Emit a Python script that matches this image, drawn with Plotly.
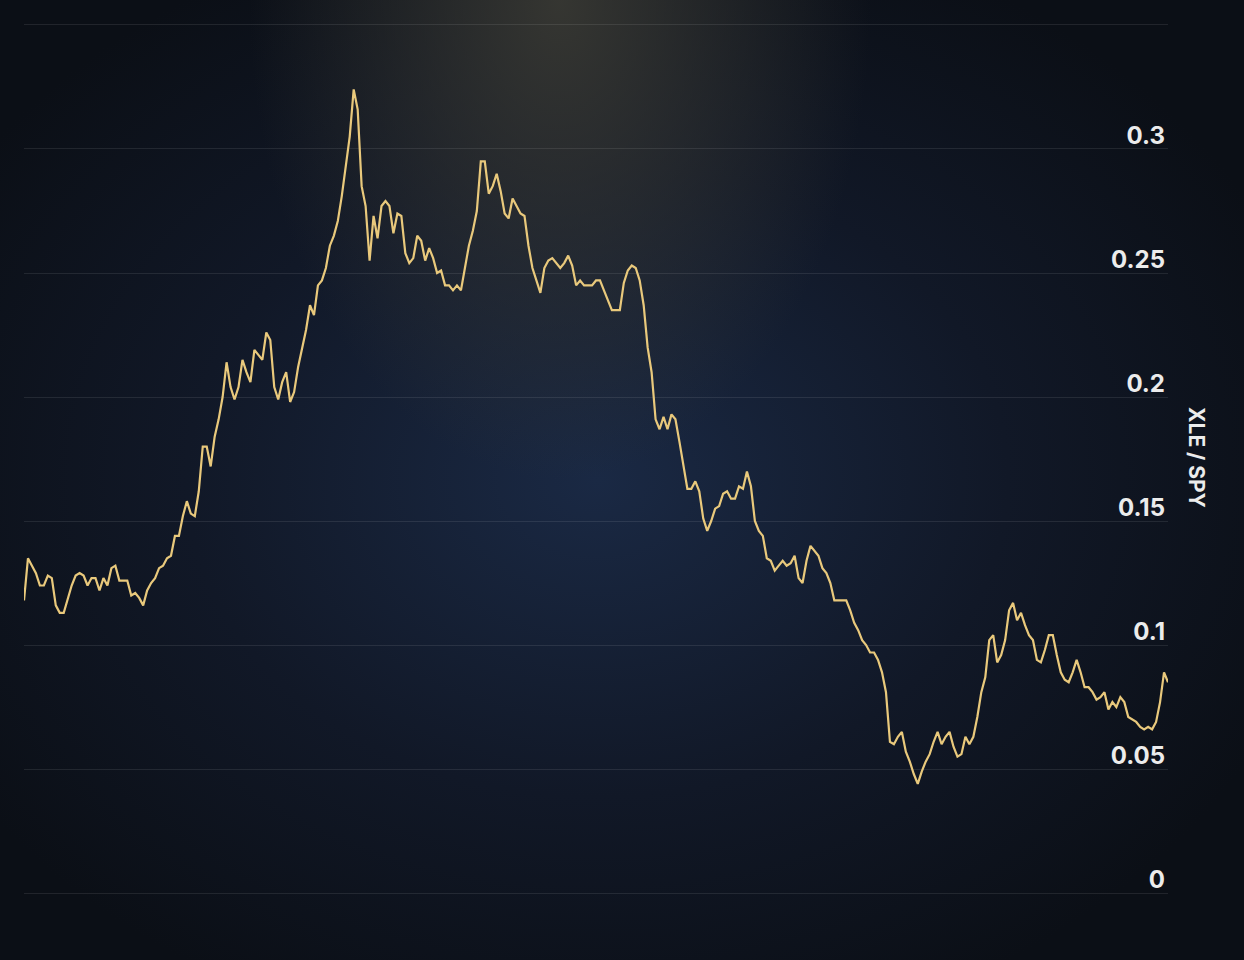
import base64
import plotly.graph_objects as go

# XLE / SPY ratio (oldest -> newest)
ratio = [
    0.118, 0.135, 0.132, 0.129, 0.124, 0.124, 0.128, 0.127, 0.116, 0.113,
    0.113, 0.118, 0.124, 0.128, 0.129, 0.128, 0.124, 0.127, 0.127, 0.122,
    0.127, 0.124, 0.131, 0.132, 0.126, 0.126, 0.126, 0.120, 0.121, 0.119,
    0.116, 0.122, 0.125, 0.127, 0.131, 0.132, 0.135, 0.136, 0.144, 0.144,
    0.152, 0.158, 0.153, 0.152, 0.162, 0.180, 0.180, 0.172, 0.184, 0.191,
    0.200, 0.214, 0.204, 0.199, 0.204, 0.215, 0.210, 0.206, 0.219, 0.217,
    0.215, 0.226, 0.223, 0.204, 0.199, 0.206, 0.210, 0.198, 0.202, 0.212,
    0.219, 0.227, 0.237, 0.233, 0.245, 0.247, 0.252, 0.261, 0.265, 0.271,
    0.281, 0.293, 0.305, 0.324, 0.316, 0.285, 0.277, 0.255, 0.273, 0.264,
    0.277, 0.279, 0.277, 0.266, 0.274, 0.273, 0.258, 0.254, 0.256, 0.265,
    0.263, 0.255, 0.260, 0.256, 0.250, 0.251, 0.245, 0.245, 0.243, 0.245,
    0.243, 0.252, 0.261, 0.267, 0.275, 0.295, 0.295, 0.282, 0.285, 0.290,
    0.283, 0.274, 0.272, 0.280, 0.277, 0.274, 0.273, 0.261, 0.252, 0.247,
    0.242, 0.252, 0.255, 0.256, 0.254, 0.252, 0.254, 0.257, 0.253, 0.245,
    0.247, 0.245, 0.245, 0.245, 0.247, 0.247, 0.243, 0.239, 0.235, 0.235,
    0.235, 0.246, 0.251, 0.253, 0.252, 0.247, 0.237, 0.220, 0.210, 0.191,
    0.187, 0.192, 0.187, 0.193, 0.191, 0.182, 0.172, 0.163, 0.163, 0.166,
    0.162, 0.151, 0.146, 0.150, 0.155, 0.156, 0.161, 0.162, 0.159, 0.159,
    0.164, 0.163, 0.170, 0.164, 0.150, 0.146, 0.144, 0.135, 0.134, 0.130,
    0.132, 0.134, 0.132, 0.133, 0.136, 0.127, 0.125, 0.134, 0.140, 0.138,
    0.136, 0.131, 0.129, 0.125, 0.118, 0.118, 0.118, 0.118, 0.114, 0.109,
    0.106, 0.102, 0.100, 0.097, 0.097, 0.094, 0.089, 0.081, 0.061, 0.060,
    0.063, 0.065, 0.057, 0.053, 0.048, 0.044, 0.049, 0.053, 0.056, 0.061,
    0.065, 0.060, 0.063, 0.065, 0.059, 0.055, 0.056, 0.063, 0.060, 0.063,
    0.071, 0.081, 0.087, 0.102, 0.104, 0.093, 0.096, 0.102, 0.114, 0.117,
    0.110, 0.113, 0.108, 0.104, 0.102, 0.094, 0.093, 0.098, 0.104, 0.104,
    0.096, 0.089, 0.086, 0.085, 0.089, 0.094, 0.089, 0.083, 0.083, 0.081,
    0.078, 0.079, 0.081, 0.074, 0.077, 0.075, 0.079, 0.077, 0.071, 0.070,
    0.069, 0.067, 0.066, 0.067, 0.066, 0.069, 0.077, 0.089, 0.085,
]
steps = list(range(len(ratio)))

tick_vals = [0, 0.05, 0.1, 0.15, 0.2, 0.25, 0.3, 0.35]
tick_text = ["0", "0.05", "0.1", "0.15", "0.2", "0.25", "0.3", ""]

# background gradient as an svg image
svg = """<svg xmlns='http://www.w3.org/2000/svg' width='1244' height='960'>
<defs>
<radialGradient id='b' cx='0.48' cy='0.5' r='0.6'>
<stop offset='0' stop-color='#1a2944'/><stop offset='0.55' stop-color='#111827'/>
<stop offset='1' stop-color='#0b0f16'/></radialGradient>
<radialGradient id='t' cx='0.45' cy='0' r='0.5' gradientTransform='translate(0.225 0) scale(0.5 1)'>
<stop offset='0' stop-color='#3a3a34' stop-opacity='0.9'/>
<stop offset='1' stop-color='#3a3a34' stop-opacity='0'/></radialGradient>
</defs>
<rect width='1244' height='960' fill='url(#b)'/>
<rect width='1244' height='960' fill='url(#t)'/>
</svg>"""
bg = "data:image/svg+xml;base64," + base64.b64encode(svg.encode()).decode()

fig = go.Figure()
fig.add_trace(go.Scatter(x=steps, y=ratio, mode="lines",
                         line=dict(color="#e9c97c", width=2.2), hoverinfo="y"))

L, R, T, B = 24, 76, 20, 25
pw, ph = 1244 - L - R, 960 - T - B
fig.add_layout_image(source=bg, xref="paper", yref="paper",
                     x=-L / pw, y=1 + T / ph, sizex=1244 / pw, sizey=960 / ph,
                     sizing="stretch", xanchor="left", yanchor="top", layer="below")

# axis title reads top to bottom, so it is an annotation
fig.add_annotation(text="XLE / SPY", xref="paper", yref="paper",
                   x=(1197 - L) / pw, y=(960 - B - 457) / ph, textangle=90,
                   showarrow=False, xanchor="center", yanchor="middle",
                   font=dict(size=21, color="#ececec", weight="bold"))

fig.update_layout(
    width=1244, height=960,
    margin=dict(l=L, r=R, t=T, b=B),
    paper_bgcolor="#0b0f16", plot_bgcolor="rgba(0,0,0,0)",
    showlegend=False,
    font=dict(family="Inter, Roboto, sans-serif", color="#e8e8e8"),
    xaxis=dict(range=[0, len(ratio) - 1], visible=False),
    yaxis=dict(side="right", range=[-0.0169, 0.352], tickvals=tick_vals, ticktext=tick_text,
               ticklabelposition="inside", ticklabelshift=-13, showgrid=True,
               gridcolor="rgba(255,255,255,0.09)", zeroline=False, showline=False,
               tickfont=dict(size=24, color="#ececec", weight="bold")),
)

fig.write_html("out.html", config={"displayModeBar": False},
               post_script="document.body.style.margin='0';document.body.style.background='#0b0f16';")
